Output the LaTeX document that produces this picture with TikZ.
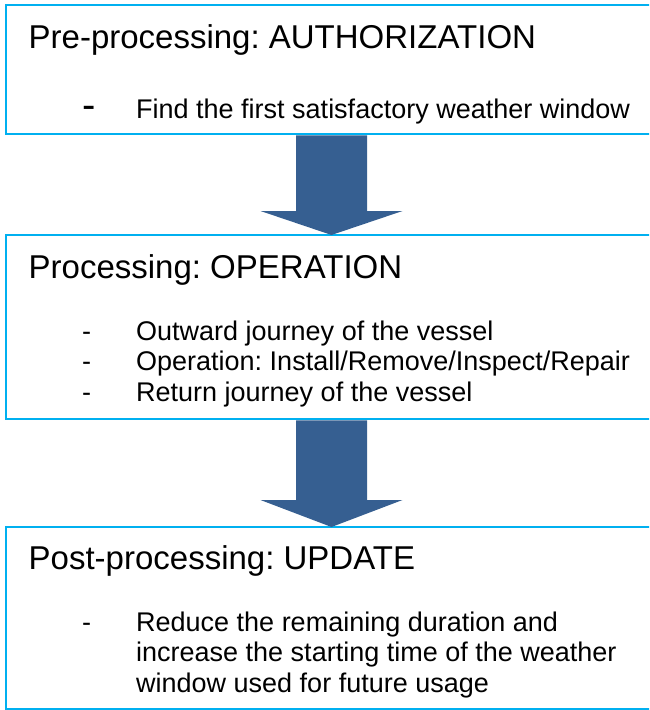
\documentclass[tikz,border=0pt]{standalone}
\usepackage{fontspec}
\setmainfont{Liberation Sans}
\usetikzlibrary{positioning,calc}

\definecolor{boxblue}{RGB}{0,176,240}
\definecolor{arrowblue}{RGB}{54,95,145}

\frenchspacing
\newcommand{\dashitem}[1]{\makebox[54pt][l]{-}#1}

\tikzset{
  stage/.style={draw=boxblue, line width=2.5pt, rectangle, outer sep=0pt,
    inner sep=0pt, minimum width=651pt, anchor=north west},
  heading/.style={anchor=base west, inner sep=0pt, font=\fontsize{33}{38}\selectfont},
  item/.style={anchor=base west, inner sep=0pt, font=\fontsize{27}{30}\selectfont},
  flow/.style={fill=arrowblue}
}

\begin{document}
\begin{tikzpicture}[x=1pt, y=1pt]
\path[use as bounding box, clip] (0,0) rectangle (649,-710);

% the three stages
\node[stage, minimum height=129pt] (pre) at (6,-5) {};
\node[stage, minimum height=184pt, below=101pt of pre] (proc) {};
\node[stage, minimum height=182pt, below=108pt of proc] (post) {};

\node[heading] (preT) at ($(pre.north west)+(22.5,-43)$) {Pre-processing: AUTHORIZATION};
\node[item] (pre1) at ($(pre.north west)+(76,-113)$)
  {\makebox[54pt][l]{\fontsize{40}{40}\selectfont -}Find the first satisfactory weather window};

\node[heading] (procT) at ($(proc.north west)+(22.5,-43)$) {Processing: OPERATION};
\node[item] (proc1) at ($(proc.north west)+(76,-105)$) {\dashitem{Outward journey of the vessel}};
\node[item] (proc2) at ($(proc1.base west)+(0,-30.5)$) {\dashitem{Operation: Install/Remove/Inspect/Repair}};
\node[item] (proc3) at ($(proc2.base west)+(0,-30.5)$) {\dashitem{Return journey of the vessel}};

\node[heading] (postT) at ($(post.north west)+(22.5,-42)$) {Post-processing: UPDATE};
\node[item] (post1) at ($(post.north west)+(76,-104)$) {\dashitem{Reduce the remaining duration and}};
\node[item] (post2) at ($(post1.base west)+(54,-30.5)$) {increase the starting time of the weather};
\node[item] (post3) at ($(post2.base west)+(0,-30.5)$) {window used for future usage};

% block arrows between stages
\fill[flow] ($(pre.south)+(-35.5,-1.25)$) -- ($(pre.south)+(35.5,-1.25)$)
  -- ($(proc.north)+(35.5,24)$) -- ($(proc.north)+(71,24)$) -- (proc.north)
  -- ($(proc.north)+(-71,24)$) -- ($(proc.north)+(-35.5,24)$) -- cycle;
\fill[flow] ($(proc.south)+(-35.5,-1.25)$) -- ($(proc.south)+(35.5,-1.25)$)
  -- ($(post.north)+(35.5,27)$) -- ($(post.north)+(71,27)$) -- (post.north)
  -- ($(post.north)+(-71,27)$) -- ($(post.north)+(-35.5,27)$) -- cycle;
\end{tikzpicture}
\end{document}
